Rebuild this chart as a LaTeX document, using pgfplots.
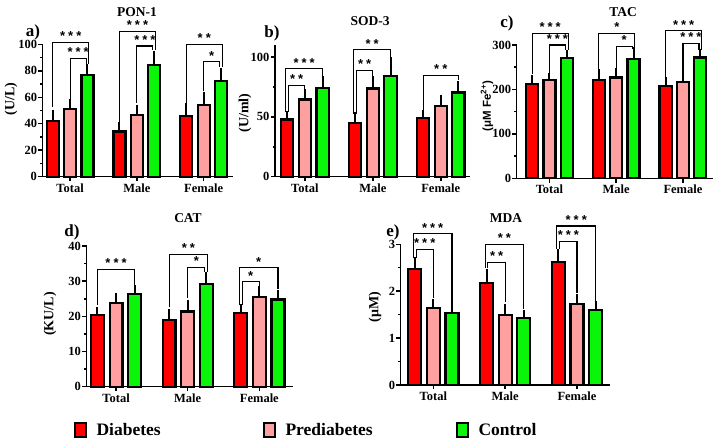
\documentclass[border=0pt]{standalone}
\usepackage{pgfplots}
\pgfplotsset{compat=1.18}
\usepackage{fontspec}
\setmainfont{Liberation Serif}
\newfontfamily\arial{Liberation Sans}
\definecolor{cDia}{RGB}{255,0,0}
\definecolor{cPre}{RGB}{255,160,160}
\definecolor{cCon}{RGB}{10,245,10}
\pgfplotsset{
  panel/.style={
    scale only axis, anchor=south west,
    axis lines=left, axis line style={-, line width=1.5pt, black},
    tick align=outside, major tick length=4.5pt, minor tick length=2.5pt,
    tick style={line width=1.5pt, black},
    xtick={0,1,2}, xticklabels={Total,Male,Female},
    minor y tick num=1,
    ymin=0, clip=false,
    /pgf/number format/assume math mode=true,
    yticklabel style={font=\bfseries\fontsize{12.5}{13}\selectfont, inner sep=1pt},
    xticklabel style={font=\bfseries\fontsize{12.5}{13}\selectfont, inner sep=2pt},
  },
}
\newcommand{\brk}[6]{\draw[line width=1.1pt, black] (axis cs:#1,#4) -- (axis cs:#1,#3) -- node[anchor=base, yshift=1.5pt, inner sep=0pt, font=\arial\bfseries\fontsize{13}{13}\selectfont] {#6} (axis cs:#2,#3) -- (axis cs:#2,#5);}
\newcommand{\Sa}{*}
\newcommand{\Sb}{*\hspace{3pt}*}
\newcommand{\Sc}{*\hspace{3pt}*\hspace{3pt}*}
% one bar series: colour
\newcommand{\barplot}[1]{\addplot[ybar, bar width=0.18, bar shift=0pt, fill=#1, draw=black, line width=2.2pt,
   error bars/.cd, y dir=plus, y explicit,
   error bar style={line width=2pt, black, solid},
   error mark options={line width=2pt, black, mark size=3.8pt}]}
\begin{document}
\begin{tikzpicture}
\useasboundingbox (0pt,0pt) rectangle (720pt,444pt);
% ---------- a) PON-1
\begin{axis}[panel, at={(42.7pt,267.3pt)}, width=190.3pt, height=132.4pt,
  xmin=-0.41, xmax=2.44, ymax=100, ytick={0,20,40,60,80,100}]
\barplot{cDia} coordinates {(-0.26,42.3) +- (0,5.3) (0.74,34.2) +- (0,4.5) (1.74,45.8) +- (0,6.9)};
\barplot{cPre} coordinates {(0,51.4) +- (0,4.6) (1,46.6) +- (0,5.0) (2,54.2) +- (0,6.6)};
\barplot{cCon} coordinates {(0.26,76.7) +- (0,5.3) (1.26,84.3) +- (0,8.1) (2.26,72.4) +- (0,6.8)};
\brk{-0.26}{0.28}{101.5}{53}{85}{\Sc}
\brk{0}{0.24}{89.4}{58}{85}{\Sc}
\brk{0.74}{1.28}{110}{40.5}{96}{\Sc}
\brk{1}{1.24}{98.7}{55.7}{96}{\Sc}
\brk{1.74}{2.28}{100}{56}{83}{\Sb}
\brk{2}{2.24}{86.9}{64.5}{83}{\Sa}
\end{axis}
% ---------- b) SOD-3
\begin{axis}[panel, at={(275pt,267.3pt)}, width=195pt, height=131.7pt,
  xmin=-0.44, xmax=2.43, ymax=110, ytick={0,50,100}]
\barplot{cDia} coordinates {(-0.26,47.8) +- (0,3.6) (0.74,45.0) +- (0,5.8) (1.74,48.9) +- (0,3.9)};
\barplot{cPre} coordinates {(0,64.4) +- (0,5.3) (1,73.6) +- (0,7.0) (2,58.9) +- (0,6.4)};
\barplot{cCon} coordinates {(0.26,74.4) +- (0,6.4) (1.26,84.2) +- (0,12.2) (2.26,70.3) +- (0,6.1)};
\brk{-0.28}{0.26}{90.3}{54}{84.5}{\Sc}
\brk{-0.24}{0}{76.4}{54}{73.5}{\Sb}
\brk{0.72}{1.26}{106}{52.5}{100}{\Sb}
\brk{0.76}{1}{89}{52.5}{84.5}{\Sb}
\brk{1.74}{2.26}{84.7}{55.6}{80.6}{\Sb}
\end{axis}
% ---------- c) TAC
\begin{axis}[panel, at={(516.7pt,265.7pt)}, width=196.3pt, height=133.3pt,
  xmin=-0.49, xmax=2.45, ymax=300, ytick={0,100,200,300}]
\barplot{cDia} coordinates {(-0.26,211.6) +- (0,11.4) (0.74,221.5) +- (0,16.5) (1.74,207.9) +- (0,11.1)};
\barplot{cPre} coordinates {(0,221.5) +- (0,7.5) (1,226.8) +- (0,12.8) (2,216.2) +- (0,11.8)};
\barplot{cCon} coordinates {(0.26,271.3) +- (0,9.7) (1.26,268.3) +- (0,18.7) (2.26,272.0) +- (0,11.5)};
\brk{-0.26}{0.28}{326}{234}{289}{\Sc}
\brk{0}{0.24}{300}{236}{289}{\Sc}
\brk{0.74}{1.28}{326}{245}{293}{\Sa}
\brk{1}{1.24}{297}{247}{292}{\Sa}
\brk{1.74}{2.28}{332}{229}{289}{\Sc}
\brk{2}{2.24}{304}{234}{289}{\Sc}
\end{axis}
% ---------- d) CAT
\begin{axis}[panel, at={(86.7pt,57.3pt)}, width=206.3pt, height=140.7pt,
  xmin=-0.41, xmax=2.47, ymax=40, ytick={0,10,20,30,40}]
\barplot{cDia} coordinates {(-0.26,20.4) +- (0,1.2) (0.74,18.9) +- (0,2.2) (1.74,20.9) +- (0,1.4)};
\barplot{cPre} coordinates {(0,23.9) +- (0,1.6) (1,21.4) +- (0,2.2) (2,25.5) +- (0,2.0)};
\barplot{cCon} coordinates {(0.26,26.4) +- (0,1.4) (1.26,29.3) +- (0,2.3) (2.26,24.8) +- (0,1.7)};
\brk{-0.26}{0.26}{33.4}{23.2}{28.9}{\Sc}
\brk{0.74}{1.28}{37.7}{22.7}{32.5}{\Sb}
\brk{1}{1.24}{34}{25.1}{32.5}{\Sa}
\brk{1.72}{2.26}{33.8}{23.2}{27.8}{\Sa}
\brk{1.76}{2}{29.9}{23.2}{28.4}{\Sa}
\end{axis}
% ---------- e) MDA
\begin{axis}[panel, at={(400.7pt,59pt)}, width=209.3pt, height=140.7pt,
  xmin=-0.455, xmax=2.46, ymax=3, ytick={0,1,2,3}]
\barplot{cDia} coordinates {(-0.26,2.48) +- (0,0.16) (0.74,2.18) +- (0,0.22) (1.74,2.62) +- (0,0.19)};
\barplot{cPre} coordinates {(0,1.64) +- (0,0.11) (1,1.49) +- (0,0.16) (2,1.73) +- (0,0.125)};
\barplot{cCon} coordinates {(0.26,1.535) +- (0,0.105) (1.26,1.436) +- (0,0.084) (2.26,1.60) +- (0,0.12)};
\brk{-0.28}{0.26}{3.23}{2.70}{1.70}{\Sc}
\brk{-0.24}{0}{2.89}{2.70}{1.85}{\Sc}
\brk{0.72}{1.26}{3.0}{2.49}{1.62}{\Sb}
\brk{0.76}{1}{2.62}{2.49}{1.78}{\Sb}
\brk{1.72}{2.26}{3.39}{2.90}{1.78}{\Sc}
\brk{1.76}{2}{3.06}{2.90}{1.96}{\Sc}
\end{axis}
% ---------- titles, panel letters, y labels
\begin{scope}[every node/.style={font=\bfseries\fontsize{13.5}{14}\selectfont}]
\node at (137pt,432pt) {PON-1};
\node at (370pt,423pt) {SOD-3};
\node at (623pt,432pt) {TAC};
\node at (188pt,226pt) {CAT};
\node at (506pt,226pt) {MDA};
\end{scope}
\begin{scope}[every node/.style={font=\bfseries\fontsize{17}{18}\selectfont}]
\node at (33pt,412pt) {a)};
\node at (272pt,411pt) {b)};
\node at (507pt,421pt) {c)};
\node at (72pt,212pt) {d)};
\node at (393pt,212pt) {e)};
\end{scope}
\begin{scope}[every node/.style={font=\bfseries\fontsize{14}{15}\selectfont, rotate=90}]
\node at (11pt,345pt) {(U/L)};
\node at (245pt,331pt) {(U/ml)};
\node[font=\arial\bfseries\fontsize{11.5}{12}\selectfont] at (487pt,338pt) {(μM Fe\textsuperscript{2+})};
\node at (50pt,130pt) {(KU/L)};
\node at (375pt,137pt) {(μM)};
\end{scope}
% ---------- legend
\draw[line width=1.5pt, fill=cDia] (75pt,7pt) rectangle (86pt,21pt);
\node[anchor=west, font=\bfseries\fontsize{17.5}{18}\selectfont] at (93pt,14pt) {Diabetes};
\draw[line width=1.5pt, fill=cPre] (264pt,7pt) rectangle (275pt,21pt);
\node[anchor=west, font=\bfseries\fontsize{17.5}{18}\selectfont] at (282pt,14pt) {Prediabetes};
\draw[line width=1.5pt, fill=cCon] (457pt,7pt) rectangle (468pt,21pt);
\node[anchor=west, font=\bfseries\fontsize{17.5}{18}\selectfont] at (475pt,14pt) {Control};
\end{tikzpicture}
\end{document}
